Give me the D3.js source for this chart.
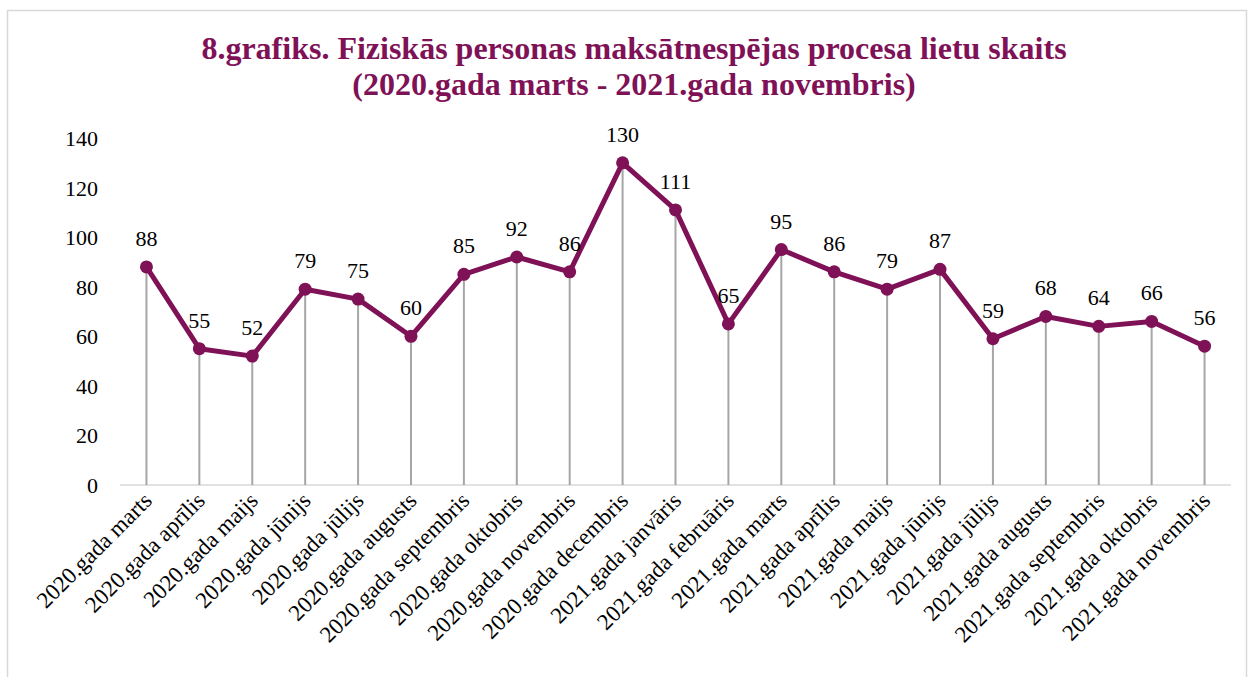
<!DOCTYPE html>
<html>
<head>
<meta charset="utf-8">
<script src="https://cdn.jsdelivr.net/npm/d3@7"></script>
<style>
  body { margin: 0; background: #fff; }
</style>
</head>
<body>
<div id="chart"></div>
<script>
// data
const months = ["2020.gada marts", "2020.gada aprīlis", "2020.gada maijs", "2020.gada jūnijs", "2020.gada jūlijs",
  "2020.gada augusts", "2020.gada septembris", "2020.gada oktobris", "2020.gada novembris", "2020.gada decembris",
  "2021.gada janvāris", "2021.gada februāris", "2021.gada marts", "2021.gada aprīlis", "2021.gada maijs",
  "2021.gada jūnijs", "2021.gada jūlijs", "2021.gada augusts", "2021.gada septembris", "2021.gada oktobris",
  "2021.gada novembris"];
const cases = [88, 55, 52, 79, 75, 60, 85, 92, 86, 130, 111, 65, 95, 86, 79, 87, 59, 68, 64, 66, 56];
const yTicks = [0, 20, 40, 60, 80, 100, 120, 140];
const titleLines = ["8.grafiks. Fiziskās personas maksātnespējas procesa lietu skaits",
  "(2020.gada marts - 2021.gada novembris)"];

const W = 1249, H = 677;
const margin = {top: 138, right: 18, bottom: 192, left: 120};
const color = "#7f1157";
const font = "'Liberation Serif', 'DejaVu Serif', serif";

const svg = d3.select("#chart").append("svg")
    .attr("width", W)
    .attr("height", H)
    .attr("font-family", font);

// outer frame
svg.append("rect")
    .attr("x", 7.5).attr("y", 10.5)
    .attr("width", W - 10).attr("height", H - 8)
    .attr("fill", "none")
    .attr("stroke", "#d9d9d9")
    .attr("stroke-width", 1.5);

// title
svg.selectAll(".title")
    .data(titleLines)
    .enter().append("text")
    .attr("class", "title")
    .attr("x", 634)
    .attr("y", (d, i) => 59 + i * 36)
    .attr("text-anchor", "middle")
    .attr("font-size", 32)
    .attr("font-weight", "bold")
    .attr("fill", color)
    .text(d => d);

const x = d3.scaleBand()
    .domain(months)
    .range([margin.left, W - margin.right]);

const y = d3.scaleLinear()
    .domain([0, 140])
    .range([H - margin.bottom, margin.top]);

const cx = d => x(d) + x.bandwidth() / 2;

// y labels
svg.selectAll(".ylab")
    .data(yTicks)
    .enter().append("text")
    .attr("class", "ylab")
    .attr("x", 98)
    .attr("y", d => y(d) + 8)
    .attr("text-anchor", "end")
    .attr("font-size", 22)
    .attr("fill", "#000")
    .text(d => d);

// baseline
svg.append("line")
    .attr("x1", margin.left).attr("x2", W - margin.right)
    .attr("y1", y(0)).attr("y2", y(0))
    .attr("stroke", "#d9d9d9")
    .attr("stroke-width", 1.5);

// drop lines
svg.selectAll(".drop")
    .data(months)
    .enter().append("line")
    .attr("class", "drop")
    .attr("x1", cx).attr("x2", cx)
    .attr("y1", (d, i) => y(cases[i]))
    .attr("y2", y(0))
    .attr("stroke", "#a6a6a6")
    .attr("stroke-width", 2);

// line
const line = d3.line()
    .x((d, i) => cx(months[i]))
    .y(d => y(d));

svg.append("path")
    .datum(cases)
    .attr("d", line)
    .attr("fill", "none")
    .attr("stroke", color)
    .attr("stroke-width", 5)
    .attr("stroke-linejoin", "round");

svg.selectAll(".dot")
    .data(cases)
    .enter().append("circle")
    .attr("class", "dot")
    .attr("cx", (d, i) => cx(months[i]))
    .attr("cy", d => y(d))
    .attr("r", 6.5)
    .attr("fill", color);

// value labels
svg.selectAll(".val")
    .data(cases)
    .enter().append("text")
    .attr("class", "val")
    .attr("x", (d, i) => cx(months[i]))
    .attr("y", d => y(d) - 21)
    .attr("text-anchor", "middle")
    .attr("font-size", 22)
    .attr("fill", "#000")
    .text(d => d);

// x labels
svg.selectAll(".xlab")
    .data(months)
    .enter().append("text")
    .attr("class", "xlab")
    .attr("transform", d => "translate(" + (cx(d) + 7) + "," + (y(0) + 17) + ") rotate(-45)")
    .attr("text-anchor", "end")
    .attr("font-size", 23)
    .attr("fill", "#000")
    .text(d => d);
</script>
</body>
</html>
